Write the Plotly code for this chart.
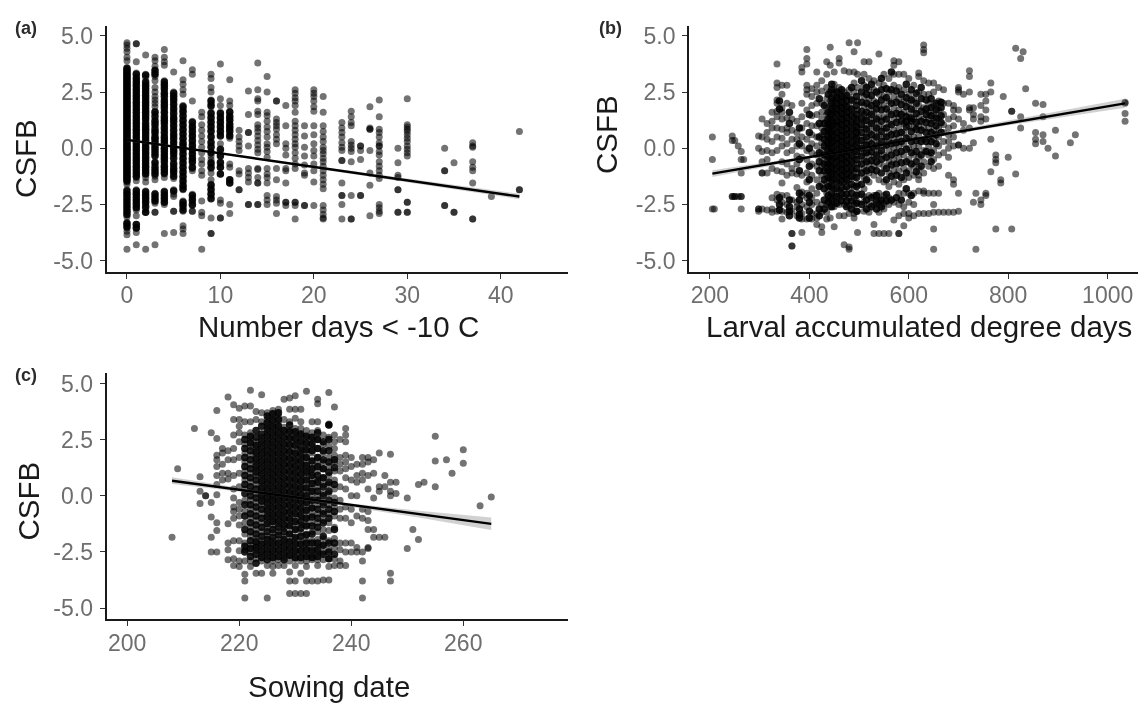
import plotly.graph_objects as go

W, H = 1138, 704

# ---------- panel (a): CSFB per number of days < -10 C ----------
a_days = [0,1,2,3,4,5,6,7,8,9,10,11,12,13,14,15,16,17,18,19,20,21,23,24,25,26,27,29,30,34,35,37,39,42]
a_csfb = [
 [4.7,4.6,4.45,4.3,4.05,3.9,3.6,3.5,3.4,3.3,3.2,3.1,3.0,2.9,2.8,2.7,2.6,2.5,2.4,2.3,2.2,2.1,2.0,1.9,1.8,1.7,1.6,1.5,1.4,1.3,1.2,1.1,1.0,.9,.8,.7,.6,.5,.4,.3,.2,.1,0,-.1,-.2,-.3,-.4,-.5,-.6,-.7,-.8,-.9,-1.0,-1.1,-1.2,-1.3,-1.4,-1.5,-1.6,-1.85,-2.0,-2.15,-2.3,-2.45,-2.6,-2.75,-2.9,-3.05,-3.3,-3.4,-3.55,-3.7,-3.85,-4.5],
 [4.65,4.65,3.85,3.35,3.2,3.05,2.9,2.75,2.6,2.45,2.3,2.15,2.0,1.85,1.7,1.55,1.4,1.25,1.1,.95,.8,.65,.5,.35,.2,.05,-.1,-.25,-.4,-.55,-.7,-.85,-1.0,-1.15,-1.3,-1.45,-1.85,-2.0,-2.15,-2.3,-2.45,-2.6,-2.75,-3.0,-3.4,-3.55,-3.75,-4.3],
 [4.15,3.3,3.15,2.9,2.75,2.6,2.45,2.3,2.1,1.95,1.8,1.65,1.5,1.35,1.2,1.0,.85,.7,.55,.4,.25,.1,-.05,-.2,-.35,-.5,-.65,-.8,-.95,-1.1,-1.3,-1.5,-1.9,-2.05,-2.2,-2.35,-2.5,-2.7,-2.85,-4.5],
 [4.05,3.9,3.65,3.5,3.35,3.2,3.0,2.7,2.5,2.3,2.15,2.0,1.85,1.65,1.5,1.25,1.1,.95,.75,.6,.45,.3,.15,0,-.15,-.3,-.6,-.75,-.95,-1.1,-1.25,-1.4,-2.0,-2.15,-2.3,-2.45,-2.85,-2.85,-4.3],
 [4.4,4.05,3.85,3.7,3.0,2.85,2.7,2.55,2.4,2.2,2.05,1.9,1.7,1.55,1.35,1.2,1.0,.8,.6,.45,.3,.1,-.05,-.2,-.35,-.5,-.7,-.85,-1.0,-1.15,-1.3,-1.9,-2.05,-2.2,-2.35,-2.5,-3.8],
 [3.4,2.5,2.35,2.2,2.05,1.85,1.65,1.45,1.3,1.1,.9,.7,.55,.35,.15,0,-.15,-.35,-.6,-.8,-1.0,-1.15,-1.35,-1.85,-2.05,-2.15,-2.8,-2.8,-3.75],
 [3.9,3.05,2.85,2.6,2.4,1.9,1.75,1.6,1.4,1.2,1.0,.8,.6,.4,.2,.05,-.1,-.3,-.5,-.7,-.9,-1.1,-1.3,-1.5,-1.7,-1.85,-2.35,-2.5,-2.65,-2.8,-3.45,-3.6,-3.8],
 [3.5,3.3,2.1,1.2,1.0,.85,.65,.5,.3,.1,-.1,-.3,-.5,-.65,-.9,-1.0,-2.05,-2.2,-2.35,-2.55,-2.8,-2.8],
 [1.6,1.4,1.05,.8,.55,.3,.05,-.2,-.5,-.7,-1.0,-1.2,-2.35,-2.85,-3.0,-4.5],
 [3.3,3.1,2.7,2.5,2.15,2.0,1.85,1.6,1.4,1.2,1.0,.8,.55,.3,.1,-.15,-.35,-.5,-.7,-.9,-1.1,-1.4,-1.6,-1.8,-2.0,-2.2,-3.1,-3.8,-3.8],
 [3.75,2.2,1.9,1.6,1.4,1.2,1.0,.8,.6,.2,-.1,-.3,-.6,-.85,-1.15,-2.3,-2.45,-3.1,-3.1],
 [3.05,2.1,1.9,1.65,1.45,1.3,1.1,.95,.8,.6,.45,-.7,-.85,-1.4,-1.55,-2.5,-2.9],
 [.8,.5,.3,.1,-.1,-1.0,-1.15,-1.85,-1.85],
 [2.55,1.5,.7,.7,.1,-.9,-1.1,-1.3,-1.5,-2.5,-2.5],
 [3.8,2.6,2.2,2.1,1.65,1.5,1.05,.9,.75,.55,.35,.15,-.05,-.2,-.9,-.95,-1.3,-1.55,-1.55,-2.5,-2.5],
 [3.2,2.5,1.6,1.45,1.2,.95,.75,.5,.2,.05,-.15,-.4,-.9,-1.15,-1.3,-1.55,-2.1,-2.3,-2.5],
 [2.1,2.1,1.3,1.15,1.0,.85,.6,.4,.2,-.9,-1.4,-2.15,-2.3,-2.45,-2.9],
 [1.9,1.0,.2,0,-.3,-.9,-1.0,-1.55,-2.4,-2.4,-2.55],
 [2.6,2.45,2.25,2.1,1.9,1.6,1.2,1.0,.8,.6,.4,.2,.05,-.2,-.45,-.7,-.9,-2.4,-2.4,-2.55,-3.15],
 [1.0,.55,.05,-.35,-.75,-1.1,-1.2,-2.55,-2.55],
 [2.6,2.45,2.3,2.1,1.85,1.65,1.0,.6,.2,-.1,-.35,-.7,-1.0,-1.5,-2.55],
 [2.3,1.6,1.0,.75,.5,.3,.05,-.1,-.25,-.45,-.6,-.8,-1.0,-1.2,-1.4,-1.6,-1.8,-2.55,-2.75,-2.95,-3.1,-3.15],
 [1.15,.9,.7,.5,.25,.05,-.1,-.55,-.55,-1.55,-2.1,-2.1,-2.5,-3.15],
 [1.65,1.4,1.15,1.0,.3,.15,0,-.15,-.6,-2.1,-3.15,-3.15],
 [.1,.1,-.1,-.5,-2.1,-2.1],
 [1.85,.9,.85,.85,-.1,-1.1,-1.65,-3.0],
 [2.15,1.4,.85,.7,.5,.25,.1,.1,-.15,-.3,-.6,-.8,-1.0,-1.2,-1.35,-2.5,-2.65,-2.8,-2.9],
 [0,-.65,-1.2,-1.3,-1.85,-1.85,-2.85,-2.85],
 [2.2,1.05,.95,.85,.75,.6,.45,.3,.1,-.05,-.2,-.35,-2.4,-2.4,-2.85,-2.85],
 [0,-1.0,-1.0,-2.55,-2.55],
 [-.65,-2.85,-2.85],
 [.25,.1,.05,-.6,-.85,-1.0,-1.55,-3.15,-3.15],
 [-2.15],
 [.75,-1.85,-1.85],
]
# further overlapping observations where the columns read as solid black
a_more_days = [0,1,2,3,4,5,6,7,9,10,11]
a_more_csfb = [
 [3.55,3.45,3.35,3.25,3.15,3.05,2.95,2.85,2.75,2.65,2.55,2.45,2.35,2.25,2.15,2.05,1.95,1.85,1.75,1.65,1.55,1.45,1.35,1.25,1.15,1.05,.95,.85,.75,.65,.55,.45,.35,.25,.15,.05,-.05,-.15,-.25,-.35,-.45,-.55,-.65,-.75,-.85,-.95,-1.05,-1.15,-1.25,-1.35,-1.45,-1.9,-2.05,-2.2,-2.35,-2.5,-2.65,-2.8,-2.95,-3.35,-3.5],
 [3.3,3.1,2.95,2.8,2.65,2.5,2.35,2.2,2.05,1.9,1.75,1.6,1.45,1.3,1.15,1.0,.85,.7,.55,.4,.25,.1,-.05,-.2,-.35,-.5,-.65,-.8,-.95,-1.1,-1.25,-1.9,-2.05,-2.2,-2.35,-2.5,-2.65,-3.55,-3.4],
 [3.25,2.95,2.8,2.65,2.5,2.35,2.2,2.05,1.9,1.75,1.6,1.45,1.3,1.1,.95,.8,.65,.5,.35,.2,.05,-.1,-.25,-.4,-.55,-.7,-.85,-1.0,-1.15,-1.95,-2.1,-2.25,-2.4,-2.6,-2.85],
 [3.45,3.3,1.6,1.4,1.2,1.05,.85,.7,.5,.4,.25,.1,-.05,-.2,-.35,-.65,-.85,-1.0,-1.15,-2.05,-2.2,-2.35],
 [2.95,2.8,2.65,2.45,2.3,2.1,1.95,1.8,1.6,1.4,1.25,1.1,.9,.7,.5,.35,.2,0,-.15,-.3,-.45,-.6,-.8,-.95,-1.1,-1.95,-2.1,-2.25,-2.4],
 [2.45,2.3,2.15,1.95,1.75,1.55,1.35,1.2,1.0,.8,.6,.45,.25,.05,-.1,-.25,-.45,-.7,-.9,-1.05,-1.25,-1.9],
 [1.85,1.65,1.45,1.25,1.05,.85,.65,.45,.25,.1,-.05,-.25,-.45,-.65,-.85,-1.05,-1.25,-1.45,-1.65,-1.8,-2.4,-2.55,-2.75],
 [1.15,.95,.75,.55,.35,.15,-.05,-.25,-.45,-.6,-.85,-2.1,-2.3,-2.5],
 [2.1,1.9,1.55,1.35,1.15,.95,.75,.5,.25,.05,-.2,-.65,-.85,-1.65,-1.85,-2.05,-2.25],
 [1.55,1.35,1.15,.95,.75,.55,-.05,-.35,-.65,-.85,-1.15],
 [1.6,1.4,1.25,1.05,.9,.75,.55,-1.4,-1.55],
]
a_fit_x = [0, 10, 20, 30, 42]
a_fit_y = [0.37, -0.23, -0.83, -1.43, -2.15]
a_fit_lo = [0.31, -0.27, -0.88, -1.51, -2.27]
a_fit_hi = [0.43, -0.19, -0.78, -1.35, -2.03]

# ---------- panel (b): CSFB per larval accumulated degree days ----------
b_degree = [205,209,245,250,257,263,268,298,305,315,325,335,345,355,365,375,385,395,405,415,425,435,442,450,460,470,480,490,497,510,520,530,540,550,560,570,580,590,600,610,620,630,640,650,660,670,680,690,700,710,722,730,735,745,755,765,775,785,790,800,807,815,825,830,835,855,870,880,895,925,935,1035]
b_csfb = [
 [.5,-.5,-2.7],[-2.7],[.55,.35,-2.15,-2.15],[.35,-2.15,-2.15],[.1,-2.15],[-.15,-.5,-1.1,-2.15,-2.15,-2.7],[-.5],
 [0,.55,-2.7,-2.7,-2.8],[1.3,.5,-.15,-.6,-1.1,-1.1,-2.7],[1.1,.7,.4,-.1,-.5,-1.1,-2.75],
 [1.6,1.2,.9,.3,-.2,-.9,-2.2,-2.7,-2.85],[3.75,2.9,2.7,2.15,2.0,1.65,1.4,.9,.5,-.1,-1.0,-2.05,-2.3,-2.8],
 [2.8,2.4,1.8,1.6,1.3,.85,.45,.1,-.6,-1.05,-1.55,-2.1,-2.4,-2.8,-3.15],
 [2.8,2.0,1.35,.9,.7,.2,-.2,-.7,-1.2,-2.1,-2.5,-2.85],
 [1.9,1.3,.8,.4,-.1,-.9,-1.1,-2.3,-2.8,-3.8,-3.8,-4.35,-4.35],
 [1.2,.7,.4,.1,-.35,-.7,-1.15,-1.75,-2.4,-2.6,-3.0],
 [3.4,3.6,2.0,1.4,.9,.5,.1,-.4,-1.2,-1.95,-2.1,-2.5,-2.9,-3.15,-3.75],
 [4.4,4.0,3.75,2.8,2.6,2.4,1.7,1.1,.4,-.1,-.5,-1.1,-1.5,-2.0,-2.2,-2.6,-3.15],
 [2.65,2.3,1.9,1.45,1.0,.6,.2,-.2,-.7,-1.2,-1.8,-2.2,-2.5,-2.9,-3.15],
 [3.4,2.8,2.5,2.0,1.5,1.0,.5,.1,-.3,-.8,-1.4,-2.0,-2.4,-2.9,-3.1,-3.4],
 [3.0,2.55,2.0,1.6,1.3,.9,.6,.25,-.1,-.45,-.8,-1.2,-1.6,-2.5,-2.85,-3.5,-3.75],
 [3.85,3.3,2.7,2.2,1.8,1.5,1.2,.9,.6,.3,0,-.3,-.6,-.9,-1.2,-1.5,-2.0,-2.5,-2.85,-3.15],
 [4.5,3.7,2.5,2.1,1.85,1.55,1.3,1.0,.7,.4,.15,-.15,-.45,-.75,-1.05,-1.35,-1.65,-2.2,-2.6,-3.1],
 [3.4,2.85,2.6,2.35,2.1,1.85,1.6,1.35,1.1,.85,.6,.35,.1,-.15,-.4,-.65,-.9,-1.15,-1.4,-1.8,-2.1,-2.4,-2.6,-3.5],
 [4.0,3.8,2.7,2.45,2.2,1.95,1.7,1.45,1.2,.95,.7,.45,.2,-.05,-.3,-.55,-.8,-1.05,-1.3,-1.55,-1.9,-2.2,-2.5,-3.0],
 [3.45,2.5,2.25,2.0,1.75,1.5,1.25,1.0,.75,.5,.25,0,-.25,-.5,-.75,-1.0,-1.25,-1.5,-1.85,-2.15,-2.5,-3.0,-4.3],
 [4.7,3.4,2.6,2.3,1.9,1.6,1.3,1.0,.7,.4,.1,-.2,-.5,-.8,-1.1,-1.4,-1.8,-2.2,-2.55,-2.9,-4.4,-4.5],
 [4.3,3.4,2.9,2.5,2.1,1.7,1.4,1.1,.8,.5,.2,-.1,-.4,-.7,-1.0,-1.3,-1.7,-2.2,-2.5,-2.9,-3.1],
 [4.7,3.3,2.7,2.1,1.7,1.3,.9,.6,.3,0,-.3,-.7,-1.1,-1.6,-2.0,-2.4,-2.8,-3.75],
 [3.85,3.3,2.8,2.3,1.9,1.5,1.2,.9,.5,.2,-.2,-.5,-.9,-1.3,-1.8,-2.15,-2.4,-2.8],
 [3.85,3.1,2.6,2.2,1.8,1.4,1.0,.7,.3,0,-.3,-.7,-1.1,-1.5,-2.1,-2.5,-2.85],
 [3.0,2.6,2.1,1.6,1.2,.8,.4,0,-.4,-.8,-1.2,-2.1,-2.5,-3.4,-3.8],
 [4.2,2.9,2.4,1.9,1.4,1.0,.6,.2,-.2,-.7,-1.4,-2.0,-2.3,-2.5,-2.85,-3.8],
 [3.3,2.8,2.3,1.9,1.4,.9,.5,.1,-.3,-.8,-1.5,-2.1,-2.45,-2.7,-3.8],
 [3.1,2.5,2.1,1.6,1.1,.7,.3,-.1,-.6,-1.1,-1.7,-2.2,-2.5,-3.8],
 [3.9,3.7,3.3,2.8,2.3,1.8,1.3,.8,.4,0,-.5,-1.0,-1.5,-2.4,-3.2],
 [3.85,3.3,2.7,2.2,1.7,1.4,.9,.5,.1,-.4,-1.0,-1.6,-2.0,-2.5,-3.0,-3.8,-3.8],
 [3.3,2.6,2.1,1.6,1.1,.7,.2,-.3,-.9,-1.4,-2.0,-2.6,-2.9,-3.45],
 [3.1,2.4,2.0,1.5,1.0,.5,0,-.5,-1.0,-1.3,-2.0,-2.4,-2.9,-3.1],
 [2.8,2.2,1.7,1.3,.9,.5,.1,-.3,-.8,-1.2,-2.0,-2.5,-3.0],
 [3.35,3.2,2.5,1.9,1.4,1.0,.6,.1,-.4,-.9,-1.2,-1.4,-1.9,-2.9],
 [4.6,4.4,4.25,3.0,2.4,1.8,1.3,.9,.4,-.1,-.6,-1.1,-1.9,-2.0,-2.9],
 [2.9,2.4,2.0,1.6,1.3,.9,.5,.1,-.3,-.8,-2.0,-2.9],
 [2.9,2.5,1.9,1.5,1.2,.8,.4,-.1,-.5,-.9,-2.0,-2.5,-2.85,-3.6,-4.5],
 [2.7,2.1,1.7,1.3,.9,.5,.1,-.3,-.8,-2.0,-2.85],
 [2.6,2.0,1.5,1.05,.7,.3,-.2,-2.85],
 [2.0,1.3,.9,.6,.3,0,-.4,-1.2,-2.85],
 [1.9,1.7,1.4,1.0,.5,.1,-1.4,-1.6,-2.85],
 [2.7,2.6,2.5,1.7,1.3,.15,.15,-2.0,-2.8],
 [2.4,1.1,.8,0],
 [3.45,3.2,2.5,1.8,1.7,.9,0],
 [1.8,1.5,1.3,.25,-2.4],
 [-2.0,-4.5],
 [2.4,1.9,1.4,1.2,-2.3,-2.5],
 [2.4,2.1,1.7,1.3,-2.0,-2.1],
 [2.9,2.5,.4,-1.05],
 [-.3,-.5,-.65,-3.6],
 [-1.4,-1.55],
 [2.3],
 [-.4],
 [1.65,1.65,-3.6],
 [4.45,-1.15],
 [4.0,1.4,.9],
 [4.3],
 [2.65],
 [2.0,.7,.4,.2],
 [1.95,1.4,.6,.3],
 [0],
 [.8,-.35],
 [.25],
 [.6],
 [2.05,2.0,1.55,1.2],
]
# further overlapping observations in the dark central mass and lower band
b_more_degree = [340,360,380,400,420,430,438,445,455,465,475,485,495,505,515,525,535,545,555,565,575,585,595,605,615,625,635,645,655,665]
b_more_csfb = [
 [2.1,1.75,-2.2,-2.5,-2.75],
 [1.6,1.1,-2.3,-2.6,-2.8,-3.0],
 [.9,.2,-.5,-1.0,-2.0,-2.3,-2.7,-2.95,-3.1],
 [1.5,.7,0,-.8,-1.4,-2.1,-2.4,-2.8,-3.1],
 [2.2,1.1,.5,-.2,-.6,-1.0,-1.7,-2.7,-3.0],
 [1.9,1.1,.75,.4,.1,-.3,-.7,-1.0,-1.4,-1.8,-2.3,-2.7],
 [2.4,1.6,1.3,1.05,.8,.5,.2,-.1,-.4,-.7,-1.0,-1.3,-1.7,-2.1,-2.4],
 [2.85,2.6,2.25,2.0,1.75,1.5,1.25,1.0,.75,.5,.25,0,-.25,-.5,-.8,-1.1,-1.4,-1.7,-2.0,-2.3,-2.6],
 [2.5,2.25,2.0,1.75,1.5,1.2,1.0,.7,.45,.2,-.1,-.35,-.6,-.9,-1.2,-1.5,-1.8,-2.15,-2.45],
 [2.6,2.3,2.05,1.8,1.55,1.3,1.05,.8,.55,.3,.05,-.2,-.45,-.7,-.95,-1.2,-1.45,-1.75,-2.05,-2.35],
 [2.35,2.1,1.85,1.6,1.35,1.1,.85,.6,.35,.1,-.15,-.4,-.65,-.9,-1.15,-1.4,-1.7,-2.05,-2.35,-2.6],
 [2.7,2.15,1.75,1.45,1.15,.85,.55,.25,-.05,-.35,-.65,-.95,-1.25,-1.6,-2.0,-2.35,-2.7],
 [2.3,1.9,1.5,1.2,.95,.7,.45,.15,-.15,-.5,-.9,-1.3,-1.7,-2.1,-2.45,-2.8],
 [3.0,2.5,2.05,1.65,1.35,1.05,.7,.35,0,-.35,-.7,-1.1,-1.6,-2.05,-2.5],
 [2.7,2.4,2.0,1.6,1.25,.85,.5,.15,-.2,-.6,-1.0,-1.4,-2.3,-2.7],
 [2.85,2.35,1.9,1.5,1.1,.6,.2,-.15,-.55,-.95,-2.2,-2.6],
 [2.5,2.0,1.75,1.3,.9,.5,.1,-.3,-.6,-1.0,-2.1,-2.4,-2.7],
 [3.1,2.6,2.15,1.7,1.2,.75,.3,-.1,-.5,-1.1,-2.3,-2.6],
 [2.65,2.25,1.75,1.3,.9,.5,.15,-.4,-.9,-1.4,-2.05,-2.35],
 [3.4,2.6,2.0,1.5,1.05,.6,.2,-.3,-.75,-1.25,-2.3],
 [2.55,2.05,1.55,1.15,.65,.25,-.2,-.7,-1.2,-2.2],
 [2.4,1.95,1.5,1.2,.7,.3,-.15,-.65,-1.3,-2.3],
 [2.85,2.25,1.85,1.4,1.2,.95,.45,-.05,-.6,-1.1,-1.8],
 [2.6,2.15,1.75,1.35,1.2,.75,.3,-.2,-.7,-2.1],
 [2.45,2.0,1.55,1.15,.85,.35,-.15,-.6,-1.05],
 [2.7,2.2,1.65,1.2,.8,.3,-.3,-.8],
 [2.15,1.75,1.5,1.15,.7,.3,-.15],
 [2.2,1.8,1.45,1.1,.7,.3,-.2,-.6],
 [2.0,1.7,1.35,1.0,.6,.2],
 [2.05,1.8,1.45,1.15,.7],
]
b_fit_x = [205, 400, 600, 800, 1035]
b_fit_y = [-1.13, -0.4, 0.36, 1.12, 2.0]
b_fit_lo = [-1.28, -0.46, 0.31, 1.02, 1.8]
b_fit_hi = [-0.98, -0.34, 0.41, 1.22, 2.2]

# ---------- panel (c): CSFB per sowing date ----------
c_sowing = [208,209,212,213,214,215,216,217,218,219,220,221,222,223,224,225,226,227,228,229,230,231,232,233,234,235,236,237,238,239,240,241,242,243,244,245,246,247,248,250,251,252,253,255,257,258,260,263,265]
c_csfb = [
 [-1.85],[1.2],[3.0],[.85,.2,-.35],[0,0],[2.8,-.3,-.95,-1.85,-2.5],
 [3.8,2.55,1.8,1.6,1.3,.9,.5,.05,-1.2,-1.55,-2.5],[2.1,1.9,1.4,1.0,.7],
 [4.4,2.0,1.6,1.0,.75,-1.25,-2.1,-2.4,-2.85],
 [4.05,3.4,2.7,2.1,1.6,.9,.3,-.1,-.5,-.7,-1.0,-2.0,-2.8,-3.1],
 [3.9,3.4,3.1,2.8,2.4,1.7,1.0,.4,-.3,-.6,-.9,-1.3,-2.0,-2.45,-2.9,-3.15],
 [4.0,3.3,2.7,2.3,1.9,1.5,1.1,.7,.3,-.2,-.7,-1.2,-1.7,-2.1,-2.4,-2.9,-3.5,-3.8,-4.55],
 [4.7,4.0,3.3,2.8,2.5,2.2,1.8,1.4,1.0,.6,.2,-.2,-.6,-1.0,-1.4,-1.8,-2.2,-2.5,-2.9,-3.15],
 [3.75,3.4,2.4,2.1,1.8,1.5,1.2,.9,.5,.1,-.3,-.7,-1.1,-1.5,-1.9,-2.2,-2.45,-2.8,-3.45],
 [4.5,3.7,3.3,2.6,2.3,2.0,1.7,1.4,1.1,.8,.5,.2,-.1,-.4,-.8,-1.2,-1.6,-2.0,-2.3,-2.6,-2.9,-3.45],
 [3.7,3.4,3.1,2.8,2.5,2.2,1.9,1.6,1.3,1.0,.7,.4,.1,-.2,-.5,-.8,-1.1,-1.4,-1.8,-2.1,-2.4,-2.7,-3.1,-4.55],
 [3.8,3.5,3.2,2.9,2.6,2.3,2.0,1.7,1.4,1.1,.8,.5,.2,-.1,-.4,-.7,-1.0,-1.3,-1.65,-2.0,-2.3,-2.6,-2.9,-3.15,-3.45],
 [3.85,3.55,3.25,2.95,2.65,2.35,2.05,1.75,1.45,1.15,.85,.55,.25,-.05,-.35,-.65,-.95,-1.25,-1.6,-1.95,-2.25,-2.55,-2.85,-3.1],
 [4.3,3.4,3.05,2.75,2.45,2.15,1.85,1.55,1.25,.95,.65,.35,.05,-.25,-.55,-.85,-1.15,-1.45,-1.85,-2.15,-2.45,-2.75,-3.1],
 [4.35,3.85,3.3,2.9,2.6,2.3,2.0,1.7,1.4,1.1,.8,.5,.2,-.1,-.4,-.7,-1.0,-1.3,-1.7,-2.05,-2.35,-2.65,-2.9,-3.4,-3.8,-4.35],
 [4.45,3.85,3.45,3.0,2.7,2.4,2.1,1.8,1.5,1.2,.9,.6,.3,0,-.3,-.6,-.9,-1.2,-1.5,-1.9,-2.2,-2.5,-2.8,-3.1,-3.8,-4.35],
 [3.85,3.3,3.0,2.7,2.4,2.05,1.75,1.45,1.15,.85,.55,.25,-.05,-.35,-.65,-.95,-1.3,-1.65,-2.0,-2.3,-2.6,-2.9,-3.45,-4.35],
 [4.65,2.9,2.6,2.3,2.0,1.7,1.4,1.1,.8,.5,.2,-.1,-.4,-.7,-1.0,-1.3,-1.7,-2.0,-2.3,-2.6,-2.9,-3.15,-3.8,-4.35],
 [3.3,2.8,2.5,2.2,1.9,1.55,1.25,.95,.65,.35,.05,-.25,-.55,-.85,-1.2,-1.6,-2.0,-2.3,-2.6,-2.85,-3.8],
 [4.3,4.1,3.3,2.9,2.5,2.1,1.7,1.4,1.1,.7,.4,0,-.4,-.8,-1.2,-1.6,-1.95,-2.25,-2.55,-2.85,-3.1,-3.8],
 [2.7,2.3,1.9,1.5,1.2,.8,.5,.1,-.3,-.7,-1.1,-1.5,-1.9,-2.2,-2.5,-2.85,-3.75],
 [4.6,3.2,3.15,2.6,2.2,1.7,1.3,.9,.5,.1,-.4,-.8,-1.2,-1.55,-2.0,-2.4,-2.8,-3.15,-3.75],
 [3.95,2.7,2.4,2.1,1.8,1.5,1.1,.7,.3,-.1,-.5,-.9,-1.4,-1.9,-2.3,-2.8,-3.1],
 [2.5,1.7,1.4,1.1,.4,-.2,-.6,-1.0,-2.1,-2.4,-2.9,-3.1],
 [3.0,2.7,2.4,1.8,1.5,1.2,.8,.3,-.5,-1.0,-2.1,-2.5,-3.1],
 [1.7,1.3,.7,0,-.6,-1.2,-2.1,-2.5],
 [1.4,.9,.6,0,-.9,-2.3,-2.5],
 [1.7,1.4,1.0,.7,-.6,-1.0,-2.5,-2.9,-3.8,-4.55],
 [1.7,1.5,.9,.3,-.7,-1.1,-1.5,-2.3,-2.35],
 [1.6,1.0,-.1,-1.5,-1.85],
 [1.9,.4,.2,-1.85],
 [.9,.4,-1.85],
 [1.85,.6,.2,0,-3.45,-3.8],
 [.6,.1],
 [-.1,-2.35],[-1.5],[.5,-1.95],[.6],[2.65,1.55,.4],[1.6],[1.0],[2.05,1.45],[-.45],[-.05],
]
# further overlapping observations in the solid black mass
c_more_sowing = [221,222,223,224,225,226,227,228,229,230,231,232,233,234,235,236,237]
c_more_csfb = [
 [2.5,2.1,1.7,1.3,.9,.5,.1,-.4,-.9,-1.5,-2.25,-2.5],
 [2.65,2.35,2.0,1.6,1.2,.8,.4,0,-.4,-.8,-1.2,-1.6,-2.0,-2.35,-2.7],
 [2.9,2.6,2.25,1.95,1.65,1.35,1.05,.7,.3,-.1,-.5,-.9,-1.3,-1.7,-2.05,-2.3,-2.6,-3.0],
 [3.1,2.75,2.45,2.15,1.85,1.55,1.25,.95,.65,.35,.05,-.25,-.6,-1.0,-1.4,-1.8,-2.15,-2.45,-2.75],
 [3.55,3.25,2.95,2.65,2.35,2.05,1.75,1.45,1.15,.85,.55,.25,-.05,-.35,-.65,-.95,-1.25,-1.6,-1.95,-2.25,-2.55,-2.85],
 [3.65,3.35,3.05,2.75,2.45,2.15,1.85,1.55,1.25,.95,.65,.35,.05,-.25,-.55,-.85,-1.15,-1.5,-1.85,-2.15,-2.45,-2.75],
 [3.7,3.4,3.1,2.8,2.5,2.2,1.9,1.6,1.3,1.0,.7,.4,.1,-.2,-.5,-.8,-1.1,-1.4,-1.75,-2.1,-2.4,-2.7],
 [2.9,2.6,2.3,2.0,1.7,1.4,1.1,.8,.5,.2,-.1,-.4,-.7,-1.0,-1.3,-1.6,-1.95,-2.25,-2.55,-2.85],
 [3.15,2.85,2.55,2.25,1.95,1.65,1.35,1.05,.75,.45,.15,-.15,-.45,-.75,-1.05,-1.35,-1.7,-2.05,-2.35,-2.65],
 [2.85,2.55,2.25,1.9,1.6,1.3,1.0,.7,.4,.1,-.2,-.5,-.8,-1.15,-1.5,-1.85,-2.15,-2.45,-2.75],
 [2.75,2.45,2.15,1.85,1.55,1.25,.95,.65,.35,.05,-.25,-.55,-.85,-1.15,-1.45,-1.8,-2.15,-2.45,-2.75],
 [2.65,2.35,2.05,1.7,1.35,1.05,.7,.35,0,-.3,-.65,-1.0,-1.35,-1.75,-2.1,-2.4,-2.7],
 [2.6,2.3,2.0,1.55,1.2,.9,.55,.2,-.2,-.55,-.95,-1.35,-1.7,-2.1,-2.45,-2.75],
 [2.8,2.5,2.1,1.7,1.3,.9,.6,.2,-.2,-.6,-1.0,-1.4,-2.1,-2.4,-2.7],
 [2.4,2.0,1.6,1.2,.8,.4,0,-.4,-.8,-1.2,-1.8,-2.2,-2.6],
 [3.15,2.5,2.0,1.5,1.05,.6,.2,-.2,-.6,-1.0,-2.1,-2.5,-2.8],
 [1.6,1.25,.5,-.3,-.7,-1.5,-2.1,-2.6],
]
c_fit_x = [208, 225, 240, 252, 265]
c_fit_y = [0.67, 0.1, -0.42, -0.82, -1.25]
c_fit_lo = [0.52, 0.04, -0.5, -0.97, -1.53]
c_fit_hi = [0.82, 0.16, -0.34, -0.67, -0.97]

# ---------- shared labels ----------
y_ticks = [5.0, 2.5, 0.0, -2.5, -5.0]
y_tick_labels = ["5.0", "2.5", "0.0", "-2.5", "-5.0"]
a_ticks = [0, 10, 20, 30, 40]
b_ticks = [200, 400, 600, 800, 1000]
c_ticks = [200, 220, 240, 260]
x_titles = ["Number days < -10 C", "Larval accumulated degree days", "Sowing date"]
panel_tags = ["(a)", "(b)", "(c)"]


def expand(columns, values):
    xs, ys = [], []
    for x, col in zip(columns, values):
        xs += [x] * len(col)
        ys += col
    return xs, ys


FONT = "Liberation Sans, Arial, sans-serif"
TICK_FONT = dict(family=FONT, size=23, color="#6e6e6e")
TITLE_FONT = dict(family=FONT, size=29.5, color="#1a1a1a")

fig = go.Figure()


def add_panel(n, columns, values, more_columns, more_values, fx, fy, lo, hi):
    ax = "" if n == 1 else str(n)
    xs, ys = expand(columns, values)
    mx, my = expand(more_columns, more_values)
    fig.add_trace(go.Scatter(x=xs, y=ys, mode="markers", xaxis="x" + ax, yaxis="y" + ax,
                             marker=dict(color="rgba(0,0,0,0.55)", size=7, line=dict(width=0)),
                             showlegend=False))
    fig.add_trace(go.Scatter(x=mx, y=my, mode="markers", xaxis="x" + ax, yaxis="y" + ax,
                             marker=dict(color="rgba(0,0,0,0.88)", size=7.5, line=dict(width=0)),
                             showlegend=False))
    fig.add_trace(go.Scatter(x=fx + fx[::-1], y=hi + lo[::-1], mode="lines", fill="toself",
                             xaxis="x" + ax, yaxis="y" + ax,
                             fillcolor="rgba(140,140,140,0.4)", line=dict(width=0), showlegend=False))
    fig.add_trace(go.Scatter(x=fx, y=fy, mode="lines", xaxis="x" + ax, yaxis="y" + ax,
                             line=dict(color="#000000", width=2.4), showlegend=False))


add_panel(1, a_days, a_csfb, a_more_days, a_more_csfb, a_fit_x, a_fit_y, a_fit_lo, a_fit_hi)
add_panel(2, b_degree, b_csfb, b_more_degree, b_more_csfb, b_fit_x, b_fit_y, b_fit_lo, b_fit_hi)
add_panel(3, c_sowing, c_csfb, c_more_sowing, c_more_csfb, c_fit_x, c_fit_y, c_fit_lo, c_fit_hi)


def xaxis(left, right, rng, ticks, anchor):
    return dict(domain=[left / W, min(right / W, 1)], range=rng, tickmode="array", tickvals=ticks,
                ticktext=[str(t) for t in ticks], showgrid=False, zeroline=False, showline=True,
                linecolor="#1a1a1a", linewidth=1.8, ticks="outside", ticklen=5, tickwidth=1.2,
                tickcolor="#333333", tickfont=TICK_FONT, anchor=anchor, ticklabelstandoff=-3)


def yaxis(top, bottom, anchor):
    return dict(domain=[1 - bottom / H, 1 - top / H], range=[-5.5, 5.45], tickmode="array",
                tickvals=y_ticks, ticktext=y_tick_labels, showgrid=False, zeroline=False,
                showline=True, linecolor="#1a1a1a", linewidth=1.8, ticks="outside", ticklen=5,
                tickwidth=1.2, tickcolor="#333333", tickfont=TICK_FONT, anchor=anchor,
                ticklabelstandoff=2)


def note(text, px, py, font, rotate=0):
    return dict(text=text, x=px / W, y=1 - py / H, xref="paper", yref="paper", xanchor="center",
                yanchor="middle", showarrow=False, font=font, textangle=rotate)


TAG_FONT = dict(family=FONT, size=18, color="#2b2b2b", weight="bold")
fig.update_layout(
    width=W, height=H, margin=dict(l=0, r=0, t=0, b=0), paper_bgcolor="white", plot_bgcolor="white",
    showlegend=False,
    xaxis=xaxis(106.5, 568, [-2.19, 47.2], a_ticks, "y"),
    yaxis=yaxis(23, 270.7, "x"),
    xaxis2=xaxis(689, 1138, [158, 1061], b_ticks, "y2"),
    yaxis2=yaxis(23, 270.7, "x2"),
    xaxis3=xaxis(106.5, 568, [196.3, 278.7], c_ticks, "y3"),
    yaxis3=yaxis(373, 620.7, "x3"),
    annotations=[
        note(panel_tags[0], 26, 25, TAG_FONT),
        note(panel_tags[1], 610, 25, TAG_FONT),
        note(panel_tags[2], 26, 375, TAG_FONT),
        note(x_titles[0], 338, 326, TITLE_FONT),
        note(x_titles[1], 919, 326, TITLE_FONT),
        note(x_titles[2], 329, 688, TITLE_FONT),
        note("CSFB", 26, 157, TITLE_FONT, -90),
        note("CSFB", 606, 133, TITLE_FONT, -90),
        note("CSFB", 28, 502, TITLE_FONT, -90),
    ],
)

fig.write_html("out.html", config=dict(displayModeBar=False),
               post_script="document.body.style.margin='0';document.body.style.filter='blur(0.5px)';")
